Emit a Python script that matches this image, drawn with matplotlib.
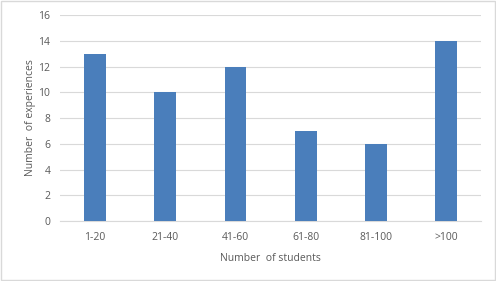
import matplotlib.pyplot as plt
from matplotlib.patches import Rectangle

categories = ['1-20', '21-40', '41-60', '61-80', '81-100', '>100']
experiences = [13, 10, 12, 7, 6, 14]
y_ticks = [0, 2, 4, 6, 8, 10, 12, 14, 16]

plt.rcParams['font.family'] = ['Open Sans', 'DejaVu Sans']

fig = plt.figure(figsize=(4.96, 2.81), dpi=100)
ax = fig.add_axes([0.121, 0.2135, 0.849, 0.733])

x = list(range(len(categories)))
ax.bar(x, experiences, width=0.31, color='#4A7EBB', zorder=3)

ax.set_xlim(-0.5, len(categories) - 0.5)
ax.set_ylim(0, 16)
ax.set_yticks(y_ticks)
ax.set_xticks(x)
ax.set_xticklabels(categories)
ax.grid(axis='y', color='#D9D9D9', linewidth=0.8, zorder=0)
ax.tick_params(length=0, labelsize=7.5, colors='#595959', pad=8)
ax.tick_params(axis='y', pad=7)

for s in ['top', 'right', 'left']:
    ax.spines[s].set_visible(False)
ax.spines['bottom'].set_color('#D9D9D9')
ax.spines['bottom'].set_linewidth(0.8)

ax.set_xlabel('Number  of students', fontsize=7.5, color='#595959', labelpad=7)
ax.set_ylabel('Number  of experiences', fontsize=7.5, color='#595959', labelpad=2)

fig.patches.append(Rectangle((0.002, 0.003), 0.995, 0.993, transform=fig.transFigure,
                             fill=False, edgecolor='#D9D9D9', linewidth=1))

fig.savefig('out.png', dpi=100)
